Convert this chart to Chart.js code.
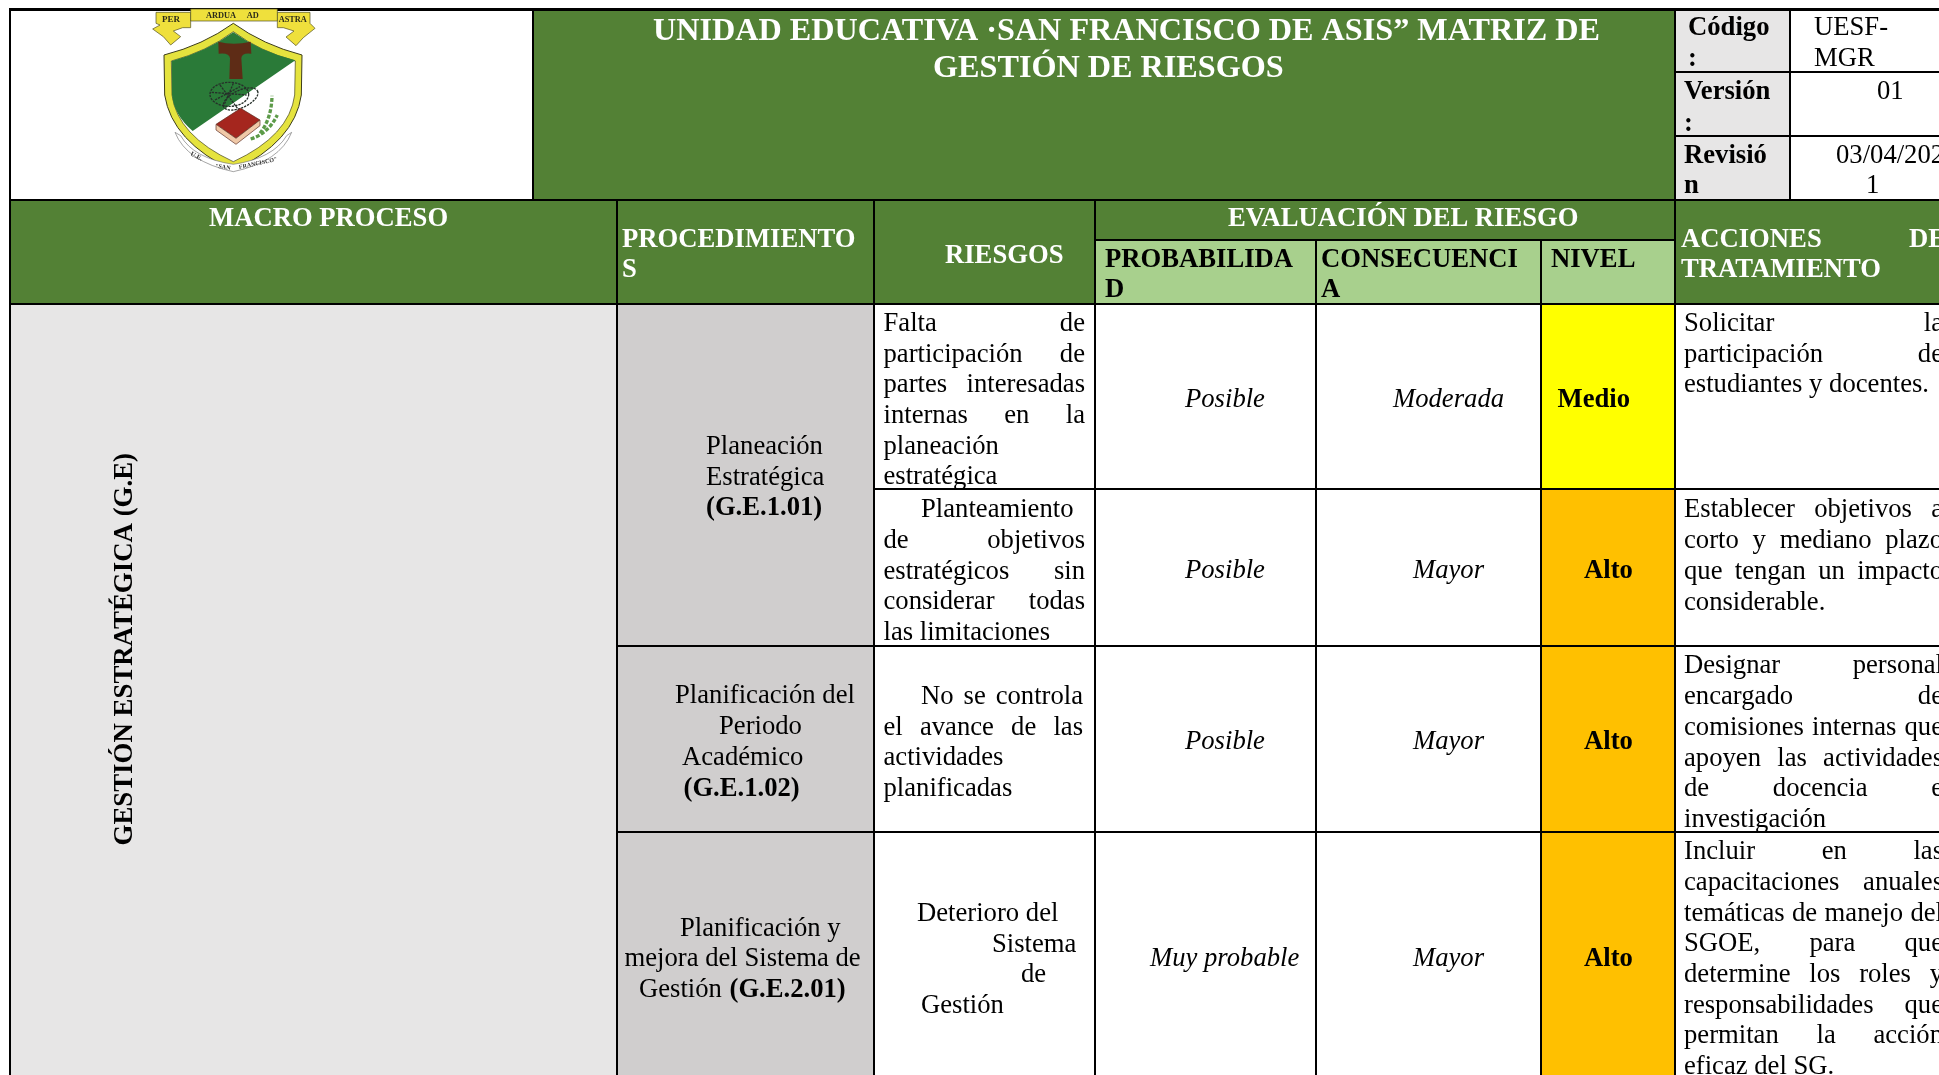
<!DOCTYPE html>
<html lang="es">
<head>
<meta charset="utf-8">
<title>Matriz de Gestión de Riesgos</title>
<script src="https://cdn.jsdelivr.net/npm/chart.js@4"></script>
<style>
    html, body { margin: 0; padding: 0; background: #fff; overflow: hidden; }
    #wrap { position: relative; width: 1939px; height: 1075px; }
    #tabla { display: block; }
    #logo { position: absolute; left: 140px; top: 5px; }
</style>
</head>
<body>
<div id="wrap">
    <canvas id="tabla" width="1939" height="1075"></canvas>
    <svg id="logo" width="190" height="175" viewBox="0 0 570 525" font-family="Liberation Serif" font-weight="bold">
        <path d="M48 22H152V68H128L100 78L122 95L92 120L70 95L38 72L60 60L48 55Z" fill="#efe03c" stroke="#4a4a20" stroke-width="2"/>
        <path d="M412 22H510V55L525 70L490 98L468 122L438 96L462 78L430 68H412Z" fill="#efe03c" stroke="#4a4a20" stroke-width="2"/>
        <path d="M152 12H412V48H152Z" fill="#efe03c" stroke="#4a4a20" stroke-width="2"/>
        <text x="66" y="52" font-size="27" fill="#2c2c1a">PER</text>
        <text x="198" y="40" font-size="25" fill="#2c2c1a">ARDUA</text>
        <text x="320" y="40" font-size="25" fill="#2c2c1a">AD</text>
        <text x="416" y="52" font-size="25" fill="#2c2c1a">ASTRA</text>
        <path d="M280 55Q190 120 72 150L74 270Q96 410 280 497Q464 410 484 270L486 150Q370 120 280 55Z" fill="#e5e33e" stroke="#3c3c18" stroke-width="3"/>
        <path d="M280 80Q200 140 94 168L96 270Q112 392 280 470Q448 392 464 270L466 168Q360 140 280 80Z" fill="#fff" stroke="#3c3c18" stroke-width="2"/>
        <path d="M280 82Q200 140 95 168L96 270Q102 330 158 378L466 166Q360 140 280 82Z" fill="#2a7a38"/>
        <path d="M235 110Q280 122 332 110L334 146Q305 142 304 160L308 222H268L270 160Q268 142 236 146Z" fill="#5e2c16"/>
        <g fill="none" stroke="#26302a" stroke-width="4" stroke-dasharray="7 3">
            <ellipse cx="268" cy="268" rx="58" ry="36"/>
            <ellipse cx="302" cy="282" rx="56" ry="26" transform="rotate(-25 302 282)"/>
            <path d="M240 240L300 320M280 235L250 305M215 262L320 270M225 285L300 245"/>
        </g>
        <path d="M228 358L302 310L360 345L288 400Z" fill="#a5261e" stroke="#5a2a20" stroke-width="2"/>
        <path d="M228 358L228 375L288 418L360 362L360 345L288 400Z" fill="#f0c9a8" stroke="#5a2a20" stroke-width="2"/>
        <path d="M360 385Q395 340 396 272M332 402Q385 385 412 330" fill="none" stroke="#5c9a48" stroke-width="10" stroke-dasharray="12 5"/>
        <path d="M105 382Q140 470 280 500Q420 470 455 382L440 392Q400 460 280 478Q160 460 122 392Z" fill="#fff" stroke="#777" stroke-width="2"/>
        <text x="150" y="450" font-size="20" fill="#333" transform="rotate(28 150 450)">U.E.</text>
        <text x="225" y="488" font-size="18" fill="#333" transform="rotate(8 225 488)">"SAN</text>
        <text x="298" y="492" font-size="18" fill="#333" transform="rotate(-12 298 492)">FRANCISCO"</text>
    </svg>
</div>
<script>
// Bordes de la tabla (x e y), en unidades de las escalas
const colEdges = [9, 533, 617, 874, 1095, 1316, 1541, 1675, 1790, 1960];
const rowEdges = [8, 72, 136, 200, 240, 304, 489, 646, 832, 1100];

// Celdas: [col inicio, col fin, fila inicio, fila fin]
const whiteCells = [
    [0, 1, 0, 3], [8, 9, 0, 1], [8, 9, 1, 2], [8, 9, 2, 3],
    [3, 4, 5, 6], [3, 4, 6, 7], [3, 4, 7, 8], [3, 4, 8, 9],
    [4, 5, 5, 6], [4, 5, 6, 7], [4, 5, 7, 8], [4, 5, 8, 9],
    [5, 6, 5, 6], [5, 6, 6, 7], [5, 6, 7, 8], [5, 6, 8, 9],
    [7, 9, 5, 6], [7, 9, 6, 7], [7, 9, 7, 8], [7, 9, 8, 9]
];
const greenCells = [
    [1, 7, 0, 3], [0, 2, 3, 5], [2, 3, 3, 5], [3, 4, 3, 5], [4, 7, 3, 4], [7, 9, 3, 5]
];
const lightGreenCells = [[4, 5, 4, 5], [5, 6, 4, 5], [6, 7, 4, 5]];
const lightGrayCells = [[7, 8, 0, 1], [7, 8, 1, 2], [7, 8, 2, 3], [0, 2, 5, 9]];
const darkGrayCells = [[2, 3, 5, 7], [2, 3, 7, 8], [2, 3, 8, 9]];
const medioCells = [[6, 7, 5, 6]];
const altoCells = [[6, 7, 6, 7], [6, 7, 7, 8], [6, 7, 8, 9]];

// Textos: [x, línea base, texto, estilo, x derecha si va justificado]
const titleLines = [
    [653, 40, 'UNIDAD EDUCATIVA ·SAN FRANCISCO DE ASIS” MATRIZ DE'],
    [933, 77, 'GESTIÓN DE RIESGOS']
];
const whiteHeaders = [
    [209, 225.7, 'MACRO PROCESO'],
    [622, 247, 'PROCEDIMIENTO'],
    [622, 277, 'S'],
    [945, 262.5, 'RIESGOS'],
    [1228, 225.7, 'EVALUACIÓN DEL RIESGO'],
    [1681, 247, 'ACCIONES DE', 'bold', 1946],
    [1681, 277, 'TRATAMIENTO']
];
const blackHeaders = [
    [1105, 266.7, 'PROBABILIDA'],
    [1105, 297, 'D'],
    [1321, 266.7, 'CONSECUENCI'],
    [1321, 297, 'A'],
    [1551, 266.7, 'NIVEL'],
    [1688, 35, 'Código'],
    [1688, 66, ':'],
    [1684, 99.3, 'Versión'],
    [1684, 131, ':'],
    [1684, 163, 'Revisió'],
    [1684, 193, 'n']
];
const bodyLines = [
    [1814, 35, 'UESF-'], [1814, 66, 'MGR'], [1877, 99.3, '01'],
    [1836, 163, '03/04/202'], [1866, 193, '1'],

    [706, 454, 'Planeación'], [706, 485, 'Estratégica'], [706, 515, '(G.E.1.01)', 'bold'],
    [675, 703, 'Planificación del'], [719, 734, 'Periodo'], [682, 765, 'Académico'],
    [683.5, 796, '(G.E.1.02)', 'bold'],
    [680, 936, 'Planificación y'], [624.5, 966, 'mejora del Sistema de'],
    [639, 997, 'Gestión'], [729.5, 997, '(G.E.2.01)', 'bold'],

    [883.5, 331, 'Falta de', '', 1085], [883.5, 361.5, 'participación de', '', 1085],
    [883.5, 392.3, 'partes interesadas', '', 1085], [883.5, 423, 'internas en la', '', 1085],
    [883.5, 453.7, 'planeación'], [883.5, 484.3, 'estratégica'],
    [921, 517, 'Planteamiento'], [883.5, 548, 'de objetivos', '', 1085],
    [883.5, 578.7, 'estratégicos sin', '', 1085], [883.5, 609.3, 'considerar todas', '', 1085],
    [883.5, 640, 'las limitaciones'],
    [921, 704, 'No se controla', '', 1083], [883.5, 734.7, 'el avance de las', '', 1083],
    [883.5, 765.3, 'actividades'], [883.5, 795.5, 'planificadas'],
    [917, 921, 'Deterioro del'], [992, 951.5, 'Sistema'], [1021, 982, 'de'], [921, 1012.5, 'Gestión'],

    [1185, 406.7, 'Posible', 'italic'], [1185, 577.7, 'Posible', 'italic'],
    [1185, 749, 'Posible', 'italic'], [1150, 966, 'Muy probable', 'italic'],
    [1393, 406.7, 'Moderada', 'italic'], [1413, 577.7, 'Mayor', 'italic'],
    [1413, 749, 'Mayor', 'italic'], [1413, 966, 'Mayor', 'italic'],
    [1557.5, 406.7, 'Medio', 'bold'], [1584, 577.7, 'Alto', 'bold'],
    [1584, 749, 'Alto', 'bold'], [1584, 966, 'Alto', 'bold'],

    [1684, 331, 'Solicitar la', '', 1943], [1684, 361.5, 'participación de', '', 1943],
    [1684, 392.3, 'estudiantes y docentes.'],
    [1684, 517, 'Establecer objetivos a', '', 1943], [1684, 548, 'corto y mediano plazo', '', 1943],
    [1684, 578.7, 'que tengan un impacto', '', 1943], [1684, 609.8, 'considerable.'],
    [1684, 672.7, 'Designar personal', '', 1943], [1684, 704, 'encargado de', '', 1943],
    [1684, 735, 'comisiones internas que', '', 1943], [1684, 765.5, 'apoyen las actividades', '', 1943],
    [1684, 795.5, 'de docencia e', '', 1943], [1684, 827, 'investigación'],
    [1684, 859.3, 'Incluir en las', '', 1943], [1684, 890, 'capacitaciones anuales', '', 1943],
    [1684, 920.7, 'temáticas de manejo del', '', 1943], [1684, 951.3, 'SGOE, para que', '', 1943],
    [1684, 981.5, 'determine los roles y', '', 1943], [1684, 1012.7, 'responsabilidades que', '', 1943],
    [1684, 1043.3, 'permitan la acción', '', 1943], [1684, 1074, 'eficaz del SG.']
];
const rotatedLabel = [131.7, 845.5, 'GESTIÓN ESTRATÉGICA (G.E)'];

const BODY_SIZE = 26.67;
const TITLE_SIZE = 32.2;

function toBars(cells) {
    return cells.map(c => ({
        x: [colEdges[c[0]], colEdges[c[1]]],
        y: (rowEdges[c[2]] + rowEdges[c[3]]) / 2,
        top: rowEdges[c[2]],
        bottom: rowEdges[c[3]],
        first: c[0] === 0,
        firstRow: c[2] === 0
    }));
}

function cellDataset(label, cells, color) {
    return {
        label: label,
        data: toBars(cells),
        backgroundColor: color,
        borderColor: '#000',
        inflateAmount: 0,
        borderSkipped: false,
        borderWidth: ctx => ({
            top: ctx.raw.firstRow ? 3 : 1,
            left: ctx.raw.first ? 2 : 1,
            bottom: 1,
            right: 1
        })
    };
}

// Barras flotantes cuyo alto sale de la escala y, no de una categoría
class CellController extends Chart.BarController {
    _calculateBarIndexPixels(index) {
        const cell = this.getDataset().data[index];
        const scale = this._cachedMeta.iScale;
        const a = scale.getPixelForValue(cell.top);
        const b = scale.getPixelForValue(cell.bottom);
        return { base: Math.min(a, b), head: Math.max(a, b), center: (a + b) / 2, size: Math.abs(b - a) };
    }
}
CellController.id = 'cell';
CellController.defaults = Chart.BarController.defaults;
Chart.register(CellController);

function drawLine(chart, line, size, color) {
    const ctx = chart.ctx;
    const x = chart.scales.x.getPixelForValue(line[0]);
    const y = chart.scales.y.getPixelForValue(line[1]);
    const style = line[3] || '';
    ctx.font = `${style} ${size}px "Liberation Serif"`;
    ctx.fillStyle = color;
    ctx.textBaseline = 'alphabetic';
    ctx.textAlign = 'left';
    if (line[4] === undefined) {
        ctx.fillText(line[2], x, y);
        return;
    }
    // Justificado: reparte el espacio entre palabras
    const words = line[2].split(' ');
    const widths = words.map(w => ctx.measureText(w).width);
    const total = widths.reduce((a, b) => a + b, 0);
    const right = chart.scales.x.getPixelForValue(line[4]);
    const gap = (right - x - total) / (words.length - 1);
    let cursor = x;
    words.forEach((w, i) => {
        ctx.fillText(w, cursor, y);
        cursor += widths[i] + gap;
    });
}

const tableText = {
    id: 'tableText',
    afterDatasetsDraw(chart) {
        const ctx = chart.ctx;
        ctx.save();
        titleLines.forEach(l => drawLine(chart, [l[0], l[1], l[2], 'bold'], TITLE_SIZE, '#fff'));
        whiteHeaders.forEach(l => drawLine(chart, [l[0], l[1], l[2], 'bold', l[4]], BODY_SIZE, '#fff'));
        blackHeaders.forEach(l => drawLine(chart, [l[0], l[1], l[2], 'bold'], BODY_SIZE, '#000'));
        bodyLines.forEach(l => drawLine(chart, l, BODY_SIZE, '#000'));

        ctx.translate(chart.scales.x.getPixelForValue(rotatedLabel[0]), chart.scales.y.getPixelForValue(rotatedLabel[1]));
        ctx.rotate(-Math.PI / 2);
        drawLine(chart, [chart.scales.x.min, chart.scales.y.min, rotatedLabel[2], 'bold'], 26.85, '#000');
        ctx.restore();
    }
};

new Chart(document.getElementById('tabla'), {
    type: 'cell',
    data: {
        datasets: [
            cellDataset('Blanco', whiteCells, '#ffffff'),
            cellDataset('Encabezado', greenCells, '#538135'),
            cellDataset('Subencabezado', lightGreenCells, '#a8d08d'),
            cellDataset('Gris claro', lightGrayCells, '#e7e6e6'),
            cellDataset('Gris oscuro', darkGrayCells, '#d0cece'),
            cellDataset('Medio', medioCells, '#ffff00'),
            cellDataset('Alto', altoCells, '#ffc000')
        ]
    },
    options: {
        indexAxis: 'y',
        responsive: false,
        animation: false,
        events: [],
        layout: { padding: 0 },
        scales: {
            x: { type: 'linear', min: 0, max: 1939, display: false, offset: false },
            y: { type: 'linear', min: 0, max: 1075, reverse: true, display: false, offset: false }
        },
        plugins: {
            legend: { display: false },
            title: { display: false },
            tooltip: { enabled: false }
        }
    },
    plugins: [tableText]
});
</script>
</body>
</html>
